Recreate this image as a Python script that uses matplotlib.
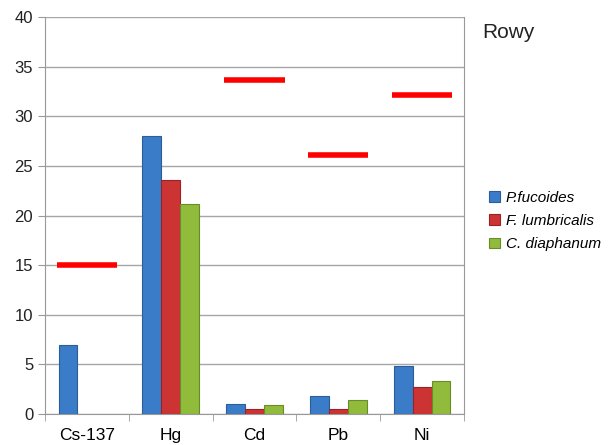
import numpy as np
import matplotlib.pyplot as plt

plt.rcParams['font.family'] = ['Liberation Sans', 'DejaVu Sans']

# dane
categories = ['Cs-137', 'Hg', 'Cd', 'Pb', 'Ni']
p_fucoides = [7.0, 28.0, 1.0, 1.8, 4.8]
f_lumbricalis = [np.nan, 23.6, 0.5, 0.5, 2.7]
c_diaphanum = [np.nan, 21.2, 0.9, 1.4, 3.3]
limits = [15.0, np.nan, 33.7, 26.1, 32.1]

series = [('P.fucoides', p_fucoides, '#3b7cc8', '#2a5d99'),
          ('F. lumbricalis', f_lumbricalis, '#cc3434', '#962424'),
          ('C. diaphanum', c_diaphanum, '#91bb3b', '#6a8c28')]

fig = plt.figure(figsize=(6.13, 4.45), dpi=100)
ax = fig.add_axes([0.0734, 0.0697, 0.6835, 0.892])

x = np.arange(len(categories))
w = 0.225
for i, (name, vals, col, edge) in enumerate(series):
    ax.bar(x + (i - 1) * w, vals, w, color=col, edgecolor=edge, linewidth=0.8,
           label=name, zorder=3)

for xi, lim in zip(x, limits):
    if not np.isnan(lim):
        ax.hlines(lim, xi - 0.36, xi + 0.36, colors='#ff0000', linewidth=4, zorder=4)

ax.set_xlim(-0.5, len(categories) - 0.5)
ax.set_ylim(0, 40)
ax.set_yticks(range(0, 41, 5))
ax.set_xticks(x)
ax.set_xticklabels(categories)
ax.set_xticks(np.arange(-0.5, len(categories), 1), minor=True)
ax.tick_params(axis='x', which='major', length=0, pad=10, labelsize=12.5)
ax.tick_params(axis='x', which='minor', length=5, color='#999999')
ax.tick_params(axis='y', length=5, color='#999999', labelsize=12, labelcolor='#222222')
ax.grid(axis='y', color='#a6a6a6', linewidth=1, zorder=0)
for s in ['left', 'right', 'bottom']:
    ax.spines[s].set_color('#999999')
ax.spines['top'].set_visible(False)

fig.text(0.787, 0.928, 'Rowy', fontsize=15, color='#222222', va='center')
leg = fig.legend(loc='center left', bbox_to_anchor=(0.775, 0.503), frameon=False,
                 prop={'style': 'italic', 'size': 11}, handlelength=0.7,
                 handleheight=0.7, handletextpad=0.4, labelspacing=0.6)

fig.savefig('out.png', dpi=100)
